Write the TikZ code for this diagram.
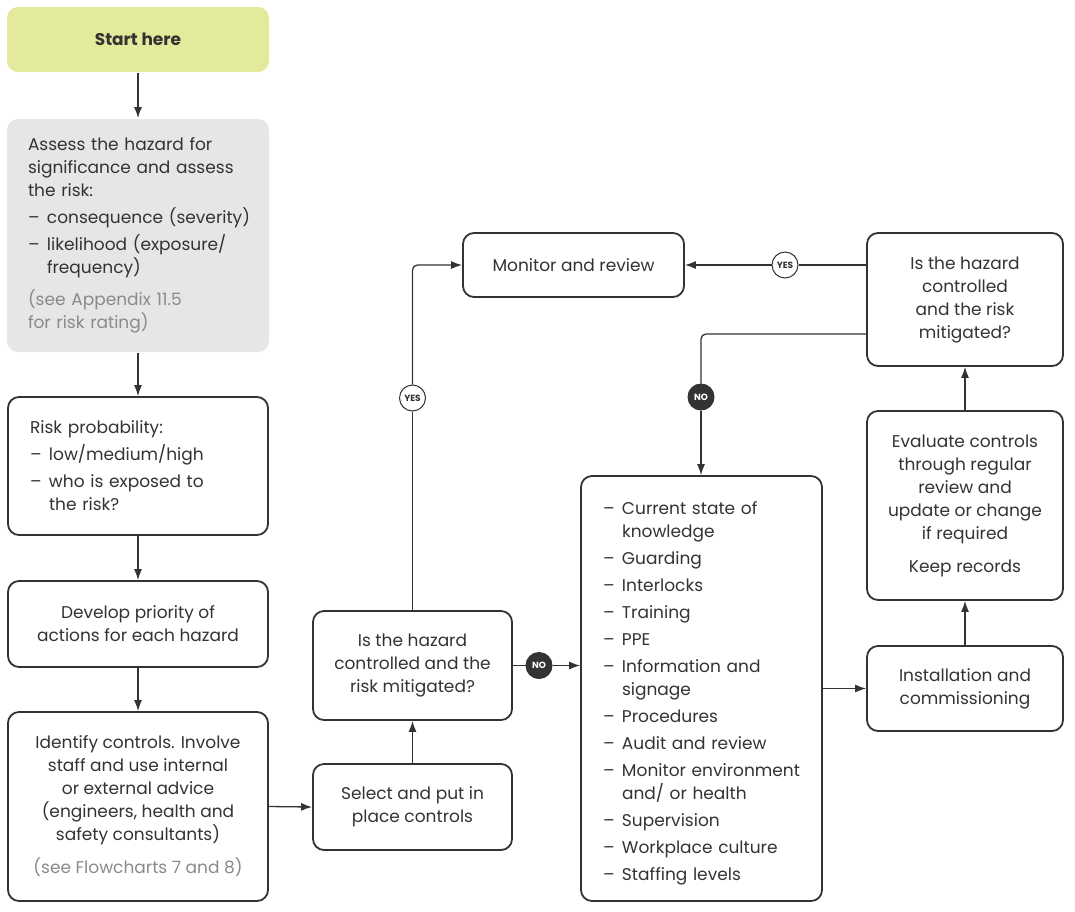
\documentclass[tikz,border=0pt]{standalone}
\usepackage{fontspec}
\setmainfont{Poppins}
\usetikzlibrary{arrows.meta}
\definecolor{ink}{HTML}{333333}
\definecolor{startfill}{HTML}{E4EA9C}
\definecolor{greyfill}{HTML}{E6E6E8}
\definecolor{notegrey}{HTML}{8A8A8A}
\hyphenpenalty=10000
\exhyphenpenalty=10000
\hbadness=10000
\hfuzz=40pt
\newcommand{\dashitem}[2][4pt]{\par\vspace{#1}\hangindent=19pt\hangafter=1\noindent\makebox[19pt][l]{–}#2}
\tikzset{
  box/.style={draw=ink, line width=1.8pt, rounded corners=11pt, inner sep=0pt,
    text=ink, font=\fontsize{17}{23}\selectfont, align=center},
  conn/.style={draw=ink, line width=1.3pt, -{Latex[length=11pt,width=8pt]}},
  plain/.style={draw=ink, line width=1.3pt},
  yesc/.style={circle, draw=ink, line width=1pt, fill=white, minimum size=26pt,
    inner sep=0pt, text=ink, font=\fontsize{9}{9}\selectfont\bfseries},
  noc/.style={circle, draw=ink, line width=1pt, fill=ink, minimum size=26pt,
    inner sep=0pt, text=white, font=\fontsize{9}{9}\selectfont\bfseries},
}
\begin{document}
\begin{tikzpicture}[x=1pt,y=-1pt]
\fill[white] (0,0) rectangle (1075,911);
\useasboundingbox (0,0) rectangle (1075,911);

\node[box, draw=none, fill=startfill, minimum width=262pt, minimum height=65pt,
  font=\fontsize{17}{23}\selectfont\bfseries] (start) at (138,39.5) {Start here};

\node[box, draw=none, fill=greyfill, minimum width=262pt, minimum height=233pt,
  text width=220pt, align=left] (assess) at (138,235.5)
  {Assess the hazard for\newline significance and assess\newline the risk:
   \dashitem{consequence~(severity)}
   \dashitem{likelihood (exposure/\newline frequency)}
   \par\vspace{9pt}\noindent{\color{notegrey}(see Appendix 11.5\newline for risk rating)}\par};

\node[box, minimum width=260pt, minimum height=138pt, text width=216pt, align=left]
  (risk) at (138,466)
  {Risk probability:
   \dashitem{low/medium/high}
   \dashitem{who is exposed to\newline the risk?}\par};

\node[box, minimum width=260pt, minimum height=86pt] (develop) at (138,624)
  {Develop priority of\\actions for each hazard};

\node[box, minimum width=260pt, minimum height=189pt] (identify) at (138,806.5)
  {Identify controls. Involve\\staff and use internal\\or external advice\\(engineers, health and\\safety consultants)\\[10pt]
   {\color{notegrey}(see Flowcharts 7 and 8)}};

\node[box, minimum width=199pt, minimum height=86pt] (select) at (412.5,807)
  {Select and put in\\place controls};

\node[box, minimum width=199pt, minimum height=109pt] (ishazL) at (412.5,665.5)
  {Is the hazard\\controlled and the\\risk mitigated?};

\node[box, minimum width=221pt, minimum height=64pt] (monitor) at (573.5,265)
  {Monitor and review};

\node[box, minimum width=241pt, minimum height=425pt, text width=197pt, align=left]
  (list) at (701.5,688.5)
  {\dashitem[0pt]{Current state of\newline knowledge}
   \dashitem{Guarding}
   \dashitem{Interlocks}
   \dashitem{Training}
   \dashitem{PPE}
   \dashitem{Information and\newline signage}
   \dashitem{Procedures}
   \dashitem{Audit and review}
   \dashitem{Monitor~environment\newline and/ or health}
   \dashitem{Supervision}
   \dashitem{Workplace culture}
   \dashitem{Staffing levels}\par};

\node[box, minimum width=196pt, minimum height=85pt] (install) at (965,688.5)
  {Installation and\\commissioning};

\node[box, minimum width=196pt, minimum height=189pt] (evaluate) at (965,505.5)
  {Evaluate controls\\through regular\\review and\\update or change\\if required\\[10pt]Keep records};

\node[box, minimum width=196pt, minimum height=133pt] (ishazR) at (965,299.5)
  {Is the hazard\\controlled\\and the risk\\mitigated?};

% connectors
\draw[conn] (start) -- (assess);
\draw[conn] (assess) -- (risk);
\draw[conn] (risk) -- (develop);
\draw[conn] (develop) -- (identify);
\draw[conn] (identify.east) -- (select.west);
\draw[conn] (select) -- (ishazL);

\node[yesc] (yesL) at (412.5,398) {YES};
\draw[plain] (ishazL.north) -- (yesL);
\draw[conn, rounded corners=5pt] (yesL) |- (monitor.west);

\node[noc] (noL) at (539,665.5) {NO};
\draw[plain] (ishazL.east) -- (noL);
\draw[conn] (noL) -- (noL -| list.west);

\draw[conn] (list.east |- install.west) -- (install.west);
\draw[conn] (install) -- (evaluate);
\draw[conn] (evaluate) -- (ishazR);

\coordinate (rYes) at ([yshift=34.5pt]ishazR.west);
\coordinate (rNo) at ([yshift=-34.5pt]ishazR.west);
\node[yesc] (yesR) at (785,265) {YES};
\draw[plain] (rYes) -- (yesR);
\draw[conn] (yesR) -- (monitor.east);

\node[noc] (noR) at (701,397) {NO};
\draw[plain, rounded corners=5pt] (rNo) -| (noR);
\draw[conn] (noR) -- (noR |- list.north);
\end{tikzpicture}
\end{document}
